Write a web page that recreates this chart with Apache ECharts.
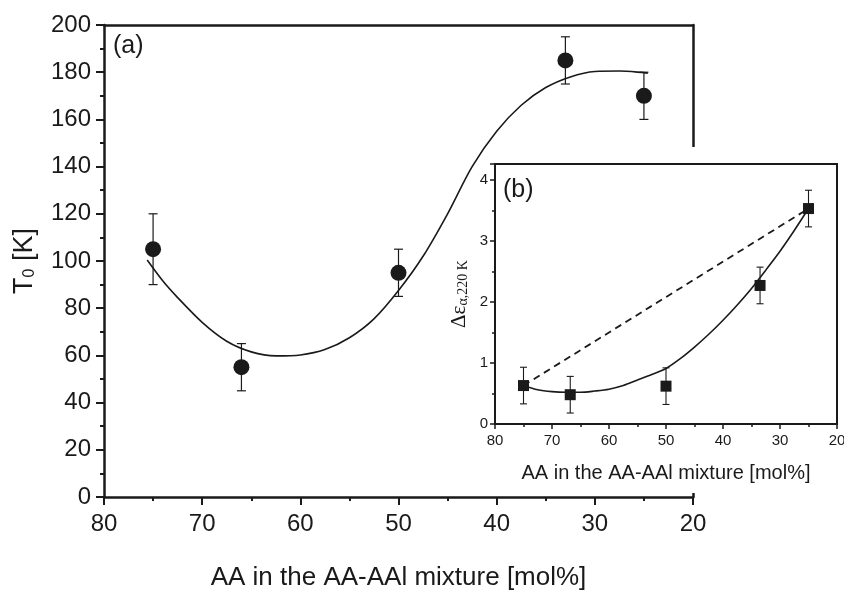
<!DOCTYPE html>
<html><head><meta charset="utf-8">
<script src="https://cdn.jsdelivr.net/npm/echarts@6/dist/echarts.min.js"></script>
<style>html,body{margin:0;padding:0;background:#fff}#c{width:844px;height:591px}</style>
</head><body><div id="c"></div>
<script>
// ---- Main panel (a) data ----
const mainX = [75, 66, 50, 33, 25];
const mainT0 = [105, 55, 95, 185, 170];
const mainErr = [15, 10, 10, 10, 10];
const mainFitX = [75.6, 74, 72.5, 70, 67.5, 65, 62.5, 60, 57.5, 55, 52.5, 50, 47.5, 45, 42.5, 40, 37.5, 35, 32.5, 30, 27.5, 25, 24.6];
const mainFitY = [100.4, 91.5, 84.5, 74, 66, 61.5, 59.8, 60.2, 62.5, 67.5, 75.5, 87.5, 102, 120, 140, 155, 166, 173.5, 178, 180.3, 180.5, 179.8, 179.6];
// ---- Inset panel (b) data ----
const insetX = [75, 66.8, 50, 33.5, 25];
const insetDeps = [0.63, 0.48, 0.62, 2.27, 3.53];
const insetErr = [0.3, 0.3, 0.3, 0.3, 0.3];
const insetFitX = [75, 72.5, 70, 67.5, 65, 62.5, 60, 57.5, 55, 52.5, 50, 47.5, 45, 42.5, 40, 37.5, 35, 32.5, 30, 27.5, 25];
const insetFitY = [0.63, 0.56, 0.53, 0.52, 0.52, 0.54, 0.57, 0.63, 0.72, 0.81, 0.91, 1.07, 1.26, 1.47, 1.70, 1.95, 2.22, 2.52, 2.83, 3.17, 3.53];
const dashIdx = [0, 4]; // dashed line joins first and last inset points

const FONT = "'Liberation Sans', Arial, Helvetica, sans-serif";
const SERIF = "'Liberation Serif', 'DejaVu Serif', serif";
const INK = '#1a1a1a';

const zip = (a, b) => a.map((v, i) => [v, b[i]]);
const zip3 = (a, b, c) => a.map((v, i) => [v, b[i], c[i]]);

function errRender(cap, lw) {
  return function (params, api) {
    const x = api.value(0), y = api.value(1), e = api.value(2);
    const hi = api.coord([x, y + e]), lo = api.coord([x, y - e]);
    const st = { stroke: INK, lineWidth: lw };
    return { type: 'group', children: [
      { type: 'line', shape: { x1: hi[0], y1: hi[1], x2: lo[0], y2: lo[1] }, style: st },
      { type: 'line', shape: { x1: hi[0] - cap, y1: hi[1], x2: hi[0] + cap, y2: hi[1] }, style: st },
      { type: 'line', shape: { x1: lo[0] - cap, y1: lo[1], x2: lo[0] + cap, y2: lo[1] }, style: st }
    ]};
  };
}

const chart = echarts.init(document.getElementById('c'), null, { renderer: 'canvas' });

const mainAxisLine = { show: true, onZero: false, lineStyle: { color: INK, width: 2.5 } };
const insetAxisLine = { show: true, onZero: false, lineStyle: { color: INK, width: 2 } };

chart.setOption({
  animation: false,
  backgroundColor: '#fff',
  grid: [
    { left: 104, top: 25, right: 151, bottom: 94, containLabel: false, outerBoundsMode: 'none' },
    { left: 495, top: 164, right: 7, bottom: 167, show: true, backgroundColor: '#fff',
      borderColor: INK, borderWidth: 2, z: 10, containLabel: false, outerBoundsMode: 'none' }
  ],
  xAxis: [
    { gridIndex: 0, type: 'value', min: 20, max: 80, interval: 10, inverse: true,
      axisLine: mainAxisLine, splitLine: { show: false },
      axisTick: { show: true, inside: false, length: 8, lineStyle: { width: 2, color: INK } },
      minorTick: { show: true, splitNumber: 2, length: 4, lineStyle: { width: 2, color: INK } },
      axisLabel: { fontSize: 24, color: INK, fontFamily: FONT, margin: 15 },
      name: 'AA in the AA-AAl mixture [mol%]', nameLocation: 'middle', nameGap: 68,
      nameTextStyle: { fontSize: 26, color: INK, fontFamily: FONT } },
    { gridIndex: 0, type: 'value', min: 20, max: 80, inverse: true, position: 'top',
      axisLine: mainAxisLine, axisTick: { show: false }, axisLabel: { show: false }, splitLine: { show: false } },
    { gridIndex: 1, type: 'value', min: 20, max: 80, interval: 10, inverse: true, z: 11,
      axisLine: insetAxisLine, splitLine: { show: false },
      axisTick: { show: true, inside: false, length: 5, lineStyle: { width: 1.5, color: INK } },
      minorTick: { show: true, splitNumber: 2, length: 3, lineStyle: { width: 1.5, color: INK } },
      axisLabel: { fontSize: 15, color: INK, fontFamily: FONT, margin: 9 },
      name: 'AA in the AA-AAl mixture [mol%]', nameLocation: 'middle', nameGap: 39,
      nameTextStyle: { fontSize: 20, color: INK, fontFamily: FONT } }
  ],
  yAxis: [
    { gridIndex: 0, type: 'value', min: 0, max: 200, interval: 20,
      axisLine: mainAxisLine, splitLine: { show: false },
      axisTick: { show: true, inside: false, length: 8, lineStyle: { width: 2, color: INK } },
      minorTick: { show: true, splitNumber: 2, length: 4, lineStyle: { width: 2, color: INK } },
      axisLabel: { fontSize: 24, color: INK, fontFamily: FONT, margin: 13 },
      name: '{t|T}{s|0}{t| [K]}', nameLocation: 'middle', nameGap: 66,
      nameTextStyle: { color: INK, fontFamily: FONT,
        rich: { t: { fontSize: 27, fontFamily: FONT, color: INK, lineHeight: 28, verticalAlign: 'bottom' },
                s: { fontSize: 16, fontFamily: FONT, color: INK, lineHeight: 15, verticalAlign: 'bottom' } } } },
    { gridIndex: 0, type: 'value', min: 0, max: 200, position: 'right',
      axisLine: mainAxisLine, axisTick: { show: false }, axisLabel: { show: false }, splitLine: { show: false } },
    { gridIndex: 1, type: 'value', min: 0, max: 4.26, interval: 1, z: 11,
      axisLine: insetAxisLine, splitLine: { show: false },
      axisTick: { show: true, inside: false, length: 5, lineStyle: { width: 1.5, color: INK } },
      minorTick: { show: true, splitNumber: 2, length: 3, lineStyle: { width: 1.5, color: INK } },
      axisLabel: { fontSize: 15, color: INK, fontFamily: FONT, margin: 7, showMaxLabel: false },
      name: '{d|Δε}{s|α,220 K}', nameLocation: 'middle', nameGap: 25,
      nameTextStyle: { color: INK,
        rich: { d: { fontSize: 21, fontFamily: SERIF, color: INK, lineHeight: 22, verticalAlign: 'bottom' },
                s: { fontSize: 14, fontFamily: SERIF, color: INK, lineHeight: 14, verticalAlign: 'bottom' } } } }
  ],
  graphic: [
    { type: 'rect', left: 560, top: 147, shape: { width: 284, height: 346 }, style: { fill: '#fff' }, z: 5, silent: true },
    { type: 'text', left: 113, top: 34, z: 20, style: { text: '(a)', fontSize: 25, fontFamily: FONT, fill: INK } },
    { type: 'text', left: 503, top: 178, z: 20, style: { text: '(b)', fontSize: 25, fontFamily: FONT, fill: INK } }
  ],
  series: [
    { type: 'line', xAxisIndex: 0, yAxisIndex: 0, data: zip(mainFitX, mainFitY), smooth: 0.3,
      showSymbol: false, symbol: 'none', lineStyle: { color: INK, width: 1.6 }, z: 2 },
    { type: 'custom', xAxisIndex: 0, yAxisIndex: 0, data: zip3(mainX, mainT0, mainErr),
      renderItem: errRender(4.5, 1.2), encode: { x: 0, y: 1 }, z: 3 },
    { type: 'scatter', xAxisIndex: 0, yAxisIndex: 0, data: zip(mainX, mainT0),
      symbol: 'circle', symbolSize: 16, itemStyle: { color: INK, opacity: 1 }, z: 4 },

    { type: 'line', xAxisIndex: 2, yAxisIndex: 2, data: dashIdx.map(i => [insetX[i], insetDeps[i]]),
      showSymbol: false, symbol: 'none', lineStyle: { color: INK, width: 1.8, type: [7, 5] }, z: 12 },
    { type: 'line', xAxisIndex: 2, yAxisIndex: 2, data: zip(insetFitX, insetFitY), smooth: 0.3,
      showSymbol: false, symbol: 'none', lineStyle: { color: INK, width: 1.6 }, z: 12 },
    { type: 'custom', xAxisIndex: 2, yAxisIndex: 2, data: zip3(insetX, insetDeps, insetErr),
      renderItem: errRender(3.5, 1.1), encode: { x: 0, y: 1 }, z: 13 },
    { type: 'scatter', xAxisIndex: 2, yAxisIndex: 2, data: zip(insetX, insetDeps),
      symbol: 'rect', symbolSize: 11, itemStyle: { color: INK, opacity: 1 }, z: 14 }
  ]
});
</script></body></html>
